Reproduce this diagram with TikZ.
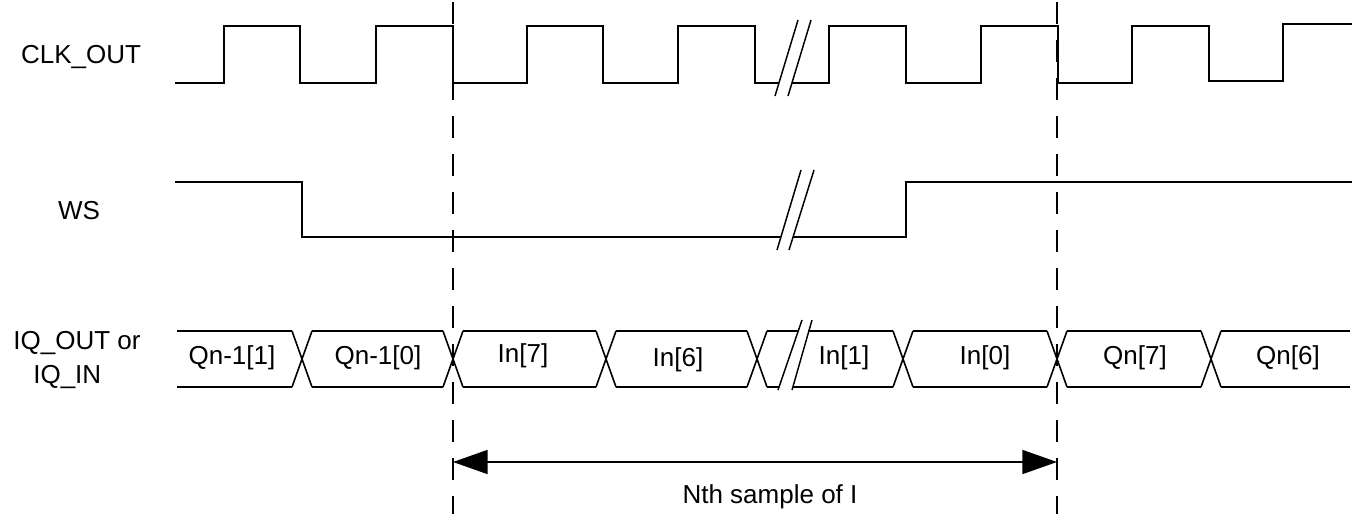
\documentclass[tikz,border=0pt]{standalone}
\usepackage{fontspec}
\setmainfont{Liberation Sans}
\usetikzlibrary{arrows.meta}
\begin{document}
\begin{tikzpicture}[x=0.75pt,y=-0.75pt,
  lbl/.style={inner sep=0pt,font=\fontsize{19.5}{26}\selectfont},
  clk/.style={line width=1.5pt,line join=miter},
  sig/.style={line width=1.2pt},
  brk/.style={line width=1.1pt},
  guide/.style={line width=1.2pt,dash pattern=on 16.5pt off 12pt},
  meas/.style={line width=1.3pt,{Triangle[length=26pt,width=18pt]}-{Triangle[length=26pt,width=18pt]}}]
\useasboundingbox (0,0) rectangle (1362,514);
% labels
\node[lbl] (lclk) at (81,57) {CLK\_OUT};
\node[lbl] (lws) at (79,211) {WS};
\node[lbl,align=center] (liq) at (77,360) {IQ\_OUT or\\IQ\_IN\hspace*{0.75em}};
% dashed guides
\coordinate (g1t) at (453,2);
\coordinate (g1b) at (453,514);
\coordinate (g2t) at (1057,2);
\coordinate (g2b) at (1057,514);
\draw[guide] (g1t) -- (g1b);
\draw[guide] (g2t) -- (g2b);
% CLK_OUT
\draw[clk] (175,83) -- (224,83) -- (224,26) -- (300,26) -- (300,83) -- (376,83) -- (376,26) -- (453,26) -- (453,83)
  -- (527,83) -- (527,26) -- (603,26) -- (603,83) -- (678,83) -- (678,26) -- (755,26) -- (755,83) -- (779,83);
\draw[clk] (792,83) -- (829,83) -- (829,26) -- (906,26) -- (906,83) -- (981,83) -- (981,26) -- (1058,26) -- (1058,83)
  -- (1132,83) -- (1132,26) -- (1209,26) -- (1209,81) -- (1283,81) -- (1283,24) -- (1352,24);
\draw[brk] (775,96) -- (798,20);
\draw[brk] (788,96) -- (811,20);
% WS
\draw[sig] (175,182) -- (302,182) -- (302,237) -- (781,237);
\draw[sig] (793,237) -- (906,237) -- (906,182) -- (1352,182);
\draw[brk] (801,170) -- (777,250);
\draw[brk] (814,170) -- (789,250);
% IQ bus
\foreach \c in {302,453,606,757,903,1057,1211}{
  \draw[sig] (\c-10,331) -- (\c+10,387);
  \draw[sig] (\c-10,387) -- (\c+10,331);
}
\draw[sig] (177,331) -- (292,331);
\draw[sig] (177,387) -- (292,387);
\foreach \a/\b in {312/443,463/596,616/747,913/1047,1067/1201}{
  \draw[sig] (\a,331) -- (\b,331);
  \draw[sig] (\a,387) -- (\b,387);
}
\draw[sig] (1221,331) -- (1350,331);
\draw[sig] (1221,387) -- (1350,387);
\draw[sig] (767,331) -- (798,331);
\draw[sig] (767,387) -- (779,387);
\draw[sig] (808,331) -- (893,331);
\draw[sig] (793,387) -- (893,387);
\draw[brk] (802,320) -- (778,390);
\draw[brk] (812,320) -- (792,390);
\node[lbl] (d1) at (232,358) {Qn-1[1]};
\node[lbl] (d2) at (378,358) {Qn-1[0]};
\node[lbl] (d3) at (523,356) {In[7]};
\node[lbl] (d4) at (678,360) {In[6]};
\node[lbl] (d5) at (844,358) {In[1]};
\node[lbl] (d6) at (985,358) {In[0]};
\node[lbl] (d7) at (1135,358) {Qn[7]};
\node[lbl] (d8) at (1288,358) {Qn[6]};
% measurement arrow
\coordinate (m1) at (453,462);
\coordinate (m2) at (1057,462);
\draw[meas] (m1) -- (m2);
\node[lbl] (mlbl) at (770,497) {Nth sample of I};
\end{tikzpicture}
\end{document}
